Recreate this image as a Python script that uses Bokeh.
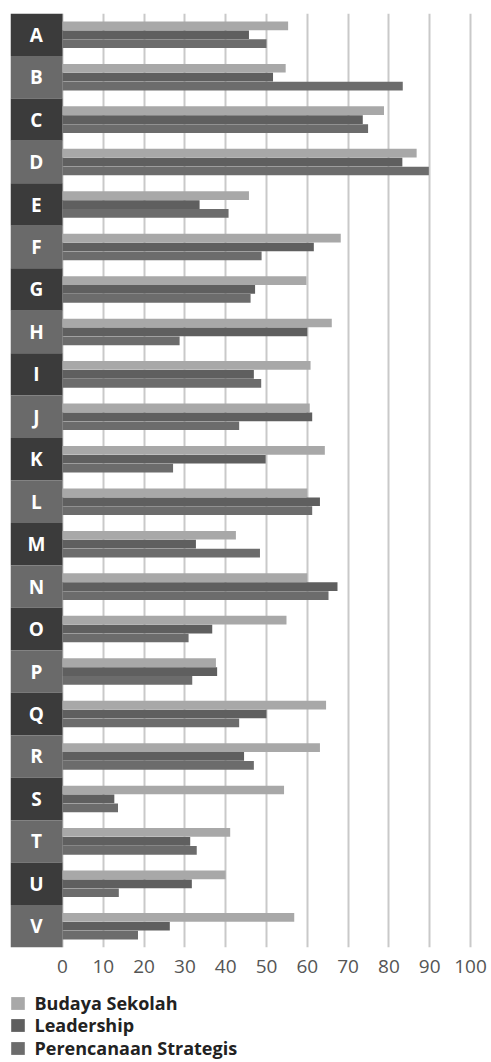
from bokeh.plotting import figure
from bokeh.layouts import column
from bokeh.models import (ColumnDataSource, Legend, LegendItem, FixedTicker,
                          FactorRange)
from bokeh.transform import dodge
from bokeh.core.properties import value
from bokeh.embed import file_html
from bokeh.resources import INLINE

# Scores per school (A-V) for the three dimensions
categories = ["A", "B", "C", "D", "E", "F", "G", "H", "I", "J", "K",
              "L", "M", "N", "O", "P", "Q", "R", "S", "T", "U", "V"]
budaya_sekolah = [55.3, 54.7, 78.8, 86.8, 45.7, 68.2, 59.8, 66.0, 60.8, 60.6, 64.3,
                  60.0, 42.5, 60.0, 54.9, 37.6, 64.6, 63.1, 54.3, 41.1, 40.0, 56.8]
leadership = [45.7, 51.6, 73.6, 83.3, 33.6, 61.6, 47.2, 60.0, 46.9, 61.2, 49.8,
              63.1, 32.7, 67.4, 36.7, 37.9, 50.0, 44.5, 12.7, 31.3, 31.7, 26.3]
perencanaan_strategis = [50.0, 83.4, 74.9, 89.8, 40.7, 48.8, 46.1, 28.7, 48.7, 43.3, 27.1,
                         61.2, 48.4, 65.2, 30.9, 31.8, 43.3, 46.9, 13.6, 32.9, 13.8, 18.5]
x_ticks = [0, 10, 20, 30, 40, 50, 60, 70, 80, 90, 100]
series_names = ["Budaya Sekolah", "Leadership", "Perencanaan Strategis"]

BAR_COLORS = ["#a8a8a8", "#5f5f5f", "#6c6c6c"]
BOX_COLORS = ["#3b3b3b", "#6a6a6a"]
FONT = "Open Sans"

src = ColumnDataSource(dict(
    cat=categories,
    budaya=budaya_sekolah,
    lead=leadership,
    plan=perencanaan_strategis,
    box=[BOX_COLORS[i % 2] for i in range(len(categories))],
))

p = figure(width=491, height=985, output_backend="svg",
           toolbar_location=None,
           y_range=FactorRange(*reversed(categories), range_padding=0),
           x_range=(-12.75, 105.15),
           min_border_left=10, min_border_right=0, min_border_top=13,
           min_border_bottom=38, outline_line_color=None,
           background_fill_color="white", border_fill_color="white")

# Category label boxes on the left
p.hbar(y="cat", left=-12.75, right=0, height=1.0, source=src,
       fill_color="box", line_color=None)
p.text(x=-6.4, y="cat", text="cat", source=src, text_color="white",
       text_font=value(FONT), text_font_style="bold", text_font_size="19px",
       text_align="center", text_baseline="middle")

# Three dodged bars per school
offsets = [0.21, 0.0, -0.21]
cols = ["budaya", "lead", "plan"]
for col, off, color in zip(cols, offsets, BAR_COLORS):
    p.hbar(y=dodge("cat", off, range=p.y_range), left=0, right=col,
           height=0.205, source=src, fill_color=color, line_color=None)

p.yaxis.visible = False
p.ygrid.grid_line_color = None
p.xgrid.ticker = FixedTicker(ticks=x_ticks)
p.xgrid.grid_line_color = "#c9c9c9"
p.xgrid.grid_line_width = 2

xa = p.xaxis[0]
xa.ticker = FixedTicker(ticks=x_ticks)
xa.axis_line_color = None
xa.major_tick_line_color = None
xa.minor_tick_line_color = None
xa.major_label_text_font = FONT
xa.major_label_text_font_size = "19px"
xa.major_label_text_color = "#555555"
xa.major_label_standoff = 6

# Legend strip under the chart; the swatch renderers sit outside the
# strip's visible range so only their legend glyphs show
LEG_H = 77
leg_fig = figure(width=491, height=LEG_H, output_backend="svg",
                 toolbar_location=None, x_range=(0, 1), y_range=(0, 1),
                 x_axis_location=None, y_axis_location=None,
                 min_border_left=0, min_border_right=0, min_border_top=0,
                 min_border_bottom=0, outline_line_color=None,
                 border_fill_color="white", background_fill_color="white")
leg_fig.grid.visible = False
swatches = [leg_fig.rect(x=[-5], y=[-5], width=0.1, height=0.1,
                         fill_color=c, line_color=None) for c in BAR_COLORS]

item_centers = [16.5, 39, 61.5]   # px from the strip's top
for name, r, cy in zip(series_names, swatches, item_centers):
    leg = Legend(items=[LegendItem(label=name, renderers=[r])],
                 location=(-1.5, LEG_H - cy - 13), orientation="vertical",
                 glyph_width=17, glyph_height=16, label_standoff=9,
                 label_text_font=FONT, label_text_font_style="bold",
                 label_text_font_size="18px", label_text_color="#222222",
                 label_height=20, spacing=0, padding=0, margin=0,
                 border_line_color=None, background_fill_alpha=0)
    leg_fig.add_layout(leg)

layout = column(p, leg_fig, spacing=0)
open("out.html", "w").write(file_html(layout, INLINE))
